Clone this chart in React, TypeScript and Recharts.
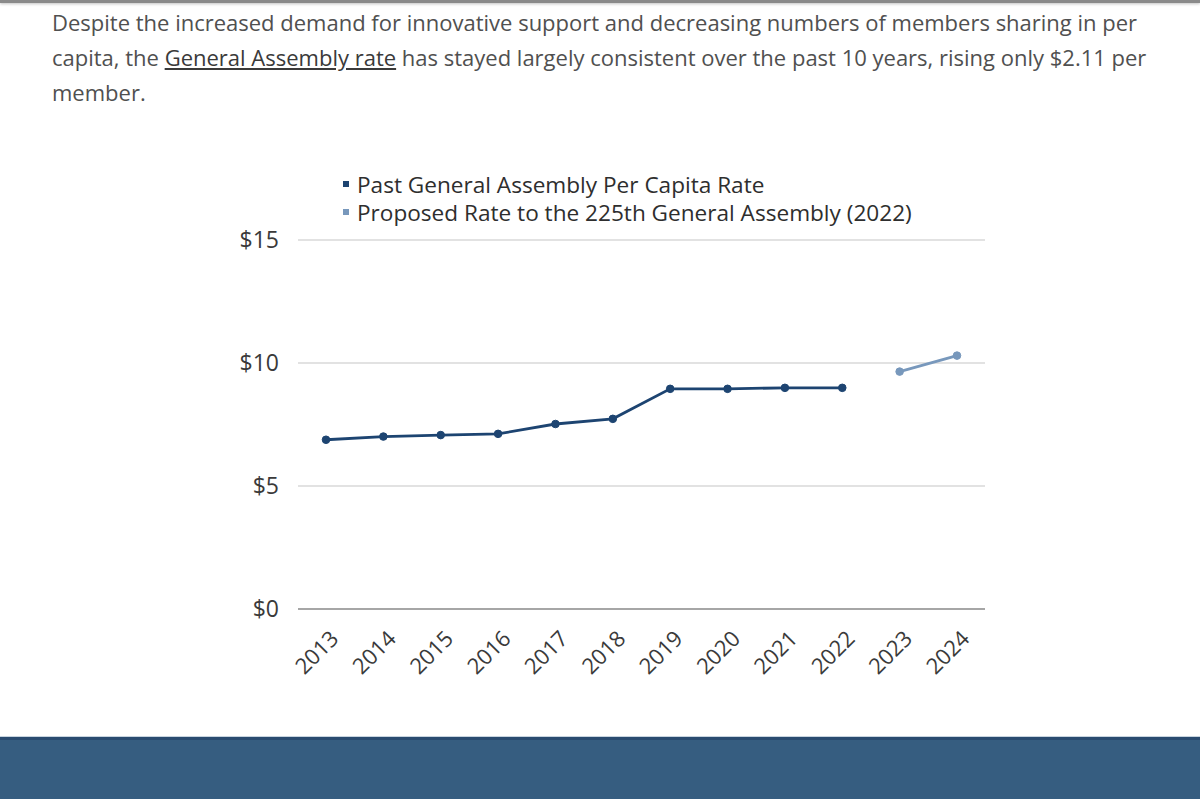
import React from 'react';
import { LineChart, Line, XAxis, YAxis, CartesianGrid, Legend } from 'recharts';

const years = ['2013', '2014', '2015', '2016', '2017', '2018', '2019', '2020', '2021', '2022', '2023', '2024'];
const pastRates = [6.88, 7.01, 7.07, 7.12, 7.52, 7.73, 8.95, 8.95, 8.99, 8.99, null, null];
const proposedRates = [null, null, null, null, null, null, null, null, null, null, 9.65, 10.3];
const yTicks = [0, 5, 10, 15];
const seriesNames = ['Past General Assembly Per Capita Rate', 'Proposed Rate to the 225th General Assembly (2022)'];

const data = years.map((year, i) => ({ year, past: pastRates[i], proposed: proposedRates[i] }));

const DARK = '#1d4471';
const LIGHT = '#7898bc';
const FONT = '"Open Sans", "Noto Sans", sans-serif';

const YearTick = (props: any) => {
  const { x, y, payload } = props;
  const px = x + 14;
  const py = y + 23;
  return (
    <text
      x={px}
      y={py}
      transform={`rotate(-45, ${px}, ${py})`}
      textAnchor="end"
      fontSize={22}
      fill="#3a3a3a"
      fontFamily={FONT}
    >
      {payload.value}
    </text>
  );
};

const LegendContent = (props: any) => {
  const items = props.payload || [];
  return (
    <div style={{ fontFamily: FONT }}>
      {items.map((it: any) => (
        <div key={it.value} style={{ display: 'flex', alignItems: 'center', height: 28 }}>
          <span style={{ display: 'inline-block', width: 6, height: 6, background: it.color, marginRight: 8 }} />
          <span style={{ fontSize: 22.6, color: '#2e2e2e', whiteSpace: 'nowrap' }}>{it.value}</span>
        </div>
      ))}
    </div>
  );
};

export default function App() {
  return (
    <div style={{ position: 'absolute', left: 0, top: 0, width: 1200, height: 799, background: '#fff', overflow: 'hidden' }}>
      <div style={{ position: 'absolute', left: 0, top: 0, width: 1200, height: 3, background: '#8a8a8a', boxShadow: '0 1px 3px rgba(0,0,0,0.25)' }} />
      <div
        style={{
          position: 'absolute',
          left: 52,
          top: 5,
          width: 1140,
          fontFamily: FONT,
          fontSize: 22,
          lineHeight: '35px',
          color: '#505050',
          whiteSpace: 'nowrap',
        }}
      >
        Despite the increased demand for innovative support and decreasing numbers of members sharing in per
        <br />
        capita, the <span style={{ textDecoration: 'underline', color: '#3a3a3a' }}>General Assembly rate</span> has stayed largely consistent over the past 10 years, rising only $2.11 per
        <br />
        member.
      </div>

      <div style={{ position: 'absolute', left: 200, top: 150 }}>
        <LineChart width={820} height={560} data={data} margin={{ top: 90, right: 35, bottom: 21, left: 0 }}>
          <CartesianGrid horizontal={true} vertical={false} stroke="#d9d9d9" strokeWidth={1.5} />
          <XAxis
            dataKey="year"
            padding={{ left: 28, right: 28 }}
            axisLine={{ stroke: '#a6a6a6', strokeWidth: 2 }}
            tickLine={false}
            height={80}
            interval={0}
            tick={<YearTick />}
          />
          <YAxis
            domain={[0, 15]}
            ticks={yTicks}
            width={98}
            axisLine={false}
            tickLine={false}
            tickMargin={13}
            tickFormatter={(v: number) => `$${v}`}
            tick={{ fontSize: 23, fill: '#3a3a3a', fontFamily: FONT }}
          />
          <Legend
            layout="vertical"
            align="center"
            verticalAlign="middle"
            wrapperStyle={{ top: 20, left: 143, width: 'auto' }}
            content={<LegendContent />}
          />
          <Line
            type="linear"
            dataKey="past"
            name={seriesNames[0]}
            stroke={DARK}
            strokeWidth={2.8}
            dot={{ r: 3.8, fill: DARK, stroke: DARK, strokeWidth: 1 }}
            isAnimationActive={false}
            connectNulls={false}
          />
          <Line
            type="linear"
            dataKey="proposed"
            name={seriesNames[1]}
            stroke={LIGHT}
            strokeWidth={2.8}
            dot={{ r: 3.8, fill: LIGHT, stroke: LIGHT, strokeWidth: 1 }}
            isAnimationActive={false}
            connectNulls={false}
          />
        </LineChart>
      </div>

      <div style={{ position: 'absolute', left: 0, top: 736, width: 1200, height: 1, background: '#c8d4df' }} />
      <div style={{ position: 'absolute', left: 0, top: 737, width: 1200, height: 3, background: '#2a4b70' }} />
      <div style={{ position: 'absolute', left: 0, top: 740, width: 1200, height: 59, background: '#365d80' }} />
    </div>
  );
}
